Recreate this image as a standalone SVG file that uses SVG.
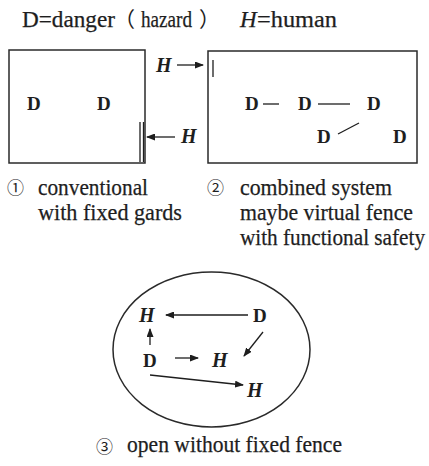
<svg xmlns="http://www.w3.org/2000/svg" width="429" height="466" viewBox="0 0 429 466">
  <style>
    .frame { fill: none; stroke: #2a2a2a; stroke-width: 1.5; }
    .ln { fill: none; stroke: #1e1e1e; stroke-width: 1.3; }
    .arr { fill: none; stroke: #1e1e1e; stroke-width: 1.3; marker-end: url(#head); }
    .cap { stroke: #1e1e1e; stroke-width: 0.25; }
  </style>
  <defs>
    <marker id="head" markerUnits="userSpaceOnUse" markerWidth="9" markerHeight="7" refX="8" refY="3.5" orient="auto">
      <path d="M0,0 L9,3.5 L0,7 z" fill="#1e1e1e"/>
    </marker>
  </defs>

  <g fill="#1e1e1e">
    <!-- legend -->
    <g id="legend">
      <text class="cap" x="22" y="27" font-family="'Liberation Serif', serif" font-size="23" textLength="93" lengthAdjust="spacingAndGlyphs">D=danger</text>
      <text x="114" y="27" font-family="'Noto Sans CJK SC', sans-serif" font-size="21">（</text>
      <text class="cap" x="141" y="27" font-family="'Liberation Serif', serif" font-size="23" textLength="51" lengthAdjust="spacingAndGlyphs">hazard</text>
      <text x="199" y="27" font-family="'Noto Sans CJK SC', sans-serif" font-size="21">）</text>
      <text class="cap" x="240" y="27" font-family="'Liberation Serif', serif" font-size="23" font-style="italic">H</text>
      <text class="cap" x="257" y="27" font-family="'Liberation Serif', serif" font-size="23" textLength="80" lengthAdjust="spacingAndGlyphs">=human</text>
    </g>

    <!-- panel 1: conventional cell with fixed guards -->
    <g id="panel-conventional">
      <rect class="frame" x="9" y="50" width="136" height="113"/>
      <text x="27" y="110" font-family="'Liberation Serif', serif" font-size="19" font-weight="bold">D</text>
      <text x="97" y="110" font-family="'Liberation Serif', serif" font-size="19" font-weight="bold">D</text>
      <line class="ln" x1="140" y1="122" x2="140" y2="162"/>
      <line class="ln" x1="143.5" y1="122" x2="143.5" y2="162"/>
    </g>

    <!-- panel 2: combined system -->
    <g id="panel-combined">
      <rect class="frame" x="208" y="51" width="209" height="112"/>
      <line class="ln" x1="213" y1="60" x2="213" y2="77"/>
      <text x="245" y="110" font-family="'Liberation Serif', serif" font-size="19" font-weight="bold">D</text>
      <text x="298" y="110" font-family="'Liberation Serif', serif" font-size="19" font-weight="bold">D</text>
      <text x="367" y="110" font-family="'Liberation Serif', serif" font-size="19" font-weight="bold">D</text>
      <text x="317" y="143" font-family="'Liberation Serif', serif" font-size="19" font-weight="bold">D</text>
      <text x="393" y="143" font-family="'Liberation Serif', serif" font-size="19" font-weight="bold">D</text>
    </g>

    <!-- humans approaching the cells -->
    <g id="human-top">
      <text x="156" y="72" font-family="'Liberation Serif', serif" font-size="20" font-weight="bold" font-style="italic">H</text>
    </g>
    <g id="human-side">
      <text x="181" y="143" font-family="'Liberation Serif', serif" font-size="20" font-weight="bold" font-style="italic">H</text>
    </g>

    <!-- panel 3: open space -->
    <g id="panel-open">
      <ellipse class="frame" cx="211.5" cy="349.5" rx="98.5" ry="77.5"/>
      <text x="139" y="322" font-family="'Liberation Serif', serif" font-size="20" font-weight="bold" font-style="italic">H</text>
      <text x="253" y="322" font-family="'Liberation Serif', serif" font-size="19" font-weight="bold">D</text>
      <text x="143" y="367" font-family="'Liberation Serif', serif" font-size="19" font-weight="bold">D</text>
      <text x="212" y="367" font-family="'Liberation Serif', serif" font-size="20" font-weight="bold" font-style="italic">H</text>
      <text x="247" y="397" font-family="'Liberation Serif', serif" font-size="20" font-weight="bold" font-style="italic">H</text>
    </g>

    <!-- captions -->
    <g id="caption-1">
      <text x="7" y="194" font-family="'Noto Sans CJK SC', sans-serif" font-size="17">①</text>
      <text class="cap" x="38" y="195" font-family="'Liberation Serif', serif" font-size="23" textLength="110" lengthAdjust="spacingAndGlyphs">conventional</text>
      <text class="cap" x="38" y="220" font-family="'Liberation Serif', serif" font-size="23" textLength="144" lengthAdjust="spacingAndGlyphs">with fixed gards</text>
    </g>
    <g id="caption-2">
      <text x="207" y="194" font-family="'Noto Sans CJK SC', sans-serif" font-size="17">②</text>
      <text class="cap" x="240" y="195" font-family="'Liberation Serif', serif" font-size="23" textLength="152" lengthAdjust="spacingAndGlyphs">combined system</text>
      <text class="cap" x="240" y="220" font-family="'Liberation Serif', serif" font-size="23" textLength="173" lengthAdjust="spacingAndGlyphs">maybe virtual fence</text>
      <text class="cap" x="240" y="245" font-family="'Liberation Serif', serif" font-size="23" textLength="185" lengthAdjust="spacingAndGlyphs">with functional safety</text>
    </g>
    <g id="caption-3">
      <text x="96" y="453" font-family="'Noto Sans CJK SC', sans-serif" font-size="17">③</text>
      <text class="cap" x="127" y="452" font-family="'Liberation Serif', serif" font-size="23" textLength="215" lengthAdjust="spacingAndGlyphs">open without fixed fence</text>
    </g>
  </g>

  <!-- connectors -->
  <g id="connectors">
    <line class="arr" x1="177" y1="65" x2="203" y2="65"/>
    <line class="arr" x1="175" y1="137" x2="147" y2="137"/>
    <line class="ln" x1="263" y1="104" x2="279" y2="104"/>
    <line class="ln" x1="318" y1="104" x2="350" y2="104"/>
    <line class="ln" x1="338" y1="134" x2="359" y2="123"/>
    <line class="arr" x1="248" y1="315" x2="166" y2="315"/>
    <line class="arr" x1="150" y1="345" x2="150" y2="329"/>
    <line class="arr" x1="175" y1="358" x2="198" y2="358"/>
    <line class="arr" x1="263" y1="332" x2="244" y2="356"/>
    <line class="arr" x1="150" y1="375" x2="243" y2="385"/>
  </g>
</svg>
